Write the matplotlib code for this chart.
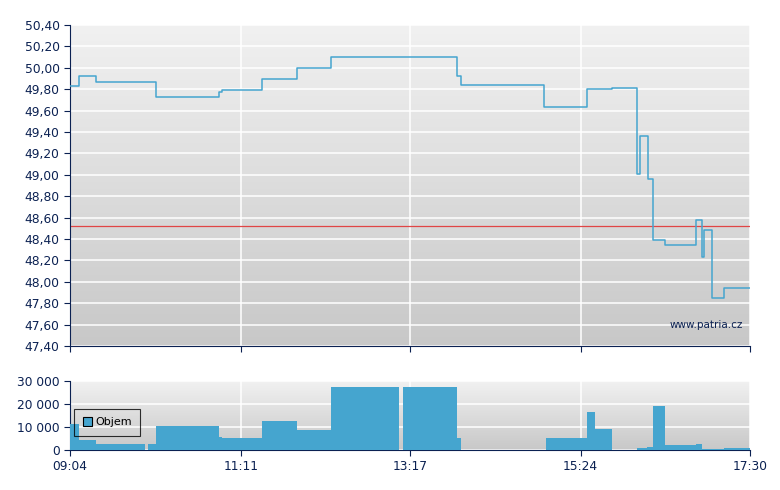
import matplotlib.pyplot as plt
import numpy as np

def mins(s):
    h, m = s.split(':')
    return int(h) * 60 + int(m)

# price steps (time of change, new price)
price_times = ['09:04', '09:11', '09:23', '10:08', '10:55', '10:57', '11:27', '11:53',
               '12:18', '13:52', '13:55', '14:57', '15:29', '15:47', '16:06', '16:08',
               '16:14', '16:18', '16:27', '16:50', '16:54', '16:56', '17:02', '17:11', '17:30']
prices = [49.83, 49.92, 49.87, 49.73, 49.77, 49.79, 49.90, 50.00,
          50.10, 49.92, 49.84, 49.63, 49.80, 49.81, 49.01, 49.36,
          48.96, 48.39, 48.34, 48.58, 48.23, 48.48, 47.85, 47.94, 47.94]
ref_price = 48.52

# volume blocks
vol_start = ['09:04', '09:11', '09:23', '10:02', '10:08', '10:55', '10:57', '11:27', '11:53',
             '12:18', '13:12', '13:52', '14:58', '15:29', '15:35', '16:06', '16:13', '16:18',
             '16:27', '16:50', '16:54', '17:11']
vol_end = ['09:11', '09:23', '10:00', '10:08', '10:55', '10:57', '11:27', '11:53', '12:18',
           '13:09', '13:52', '13:55', '15:29', '15:35', '15:47', '16:13', '16:18', '16:27',
           '16:50', '16:54', '17:11', '17:30']
volumes = [11300, 4400, 2600, 2600, 10400, 5600, 5200, 12600, 8700,
           27400, 27400, 5200, 5200, 16500, 9100, 1000, 1400, 19100,
           2200, 2600, 500, 900]

xticks = ['09:04', '11:11', '13:17', '15:24', '17:30']
price_ticks = np.arange(47.4, 50.41, 0.2)
vol_ticks = [0, 10000, 20000, 30000]

navy = '#0b2152'
blue = '#45a5cf'

fig = plt.figure(figsize=(7.8, 4.9), dpi=100)
ax = fig.add_axes([70/780, 1-346/490, 680/780, 321/490])
ax2 = fig.add_axes([70/780, 1-450/490, 680/780, 69/490])

# vertical grey gradient, light at top
shade = np.linspace(200, 241, 256) / 255
grad = np.repeat(shade[:, None, None], 3, axis=2)
for a in (ax, ax2):
    a.imshow(grad, extent=[0, 1, 0, 1], transform=a.transAxes,
             aspect='auto', zorder=0, origin='lower')
    for s in ('top', 'right'):
        a.spines[s].set_visible(False)
    for s in ('left', 'bottom'):
        a.spines[s].set_color(navy)
    a.tick_params(colors=navy, labelcolor=navy, labelsize=8.8, length=4)
    a.set_xlim(mins('09:04'), mins('17:30'))
    a.set_xticks([mins(t) for t in xticks])
    a.grid(True, color='white', lw=1.1)
    a.set_axisbelow(True)

# price panel
tx = [mins(t) for t in price_times]
ax.step(tx, prices, where='post', color=blue, lw=1.1, zorder=3)
ax.axhline(ref_price, color='#e04545', lw=0.9, zorder=2)
ax.set_ylim(47.4, 50.4)
ax.set_yticks(price_ticks)
ax.set_yticklabels([f'{v:.2f}'.replace('.', ',') for v in price_ticks])
ax.set_xticklabels([])
ax.text(0.99, 0.065, 'www.patria.cz', transform=ax.transAxes, ha='right', va='center',
        fontsize=7.5, color=navy)

# volume panel
vs = np.array([mins(t) for t in vol_start])
ve = np.array([mins(t) for t in vol_end])
ax2.bar(vs, volumes, width=ve - vs, align='edge', color=blue, lw=0, zorder=3, label='Objem')
ax2.set_ylim(0, 30000)
ax2.set_yticks(vol_ticks)
ax2.set_yticklabels([f'{v:,}'.replace(',', ' ') for v in vol_ticks])
ax2.set_xticklabels(xticks)
leg = ax2.legend(loc='upper left', bbox_to_anchor=(0.0, 0.66), fontsize=8,
                 frameon=True, fancybox=False, handlelength=0.8, handleheight=0.8,
                 borderpad=0.75, handletextpad=0.3, borderaxespad=0.4)
leg.get_frame().set_edgecolor('black')
leg.get_frame().set_facecolor('none')
leg.get_frame().set_linewidth(0.8)
for p in leg.get_patches():
    p.set_edgecolor('black')
    p.set_linewidth(0.8)

fig.savefig('out.png', dpi=100)
